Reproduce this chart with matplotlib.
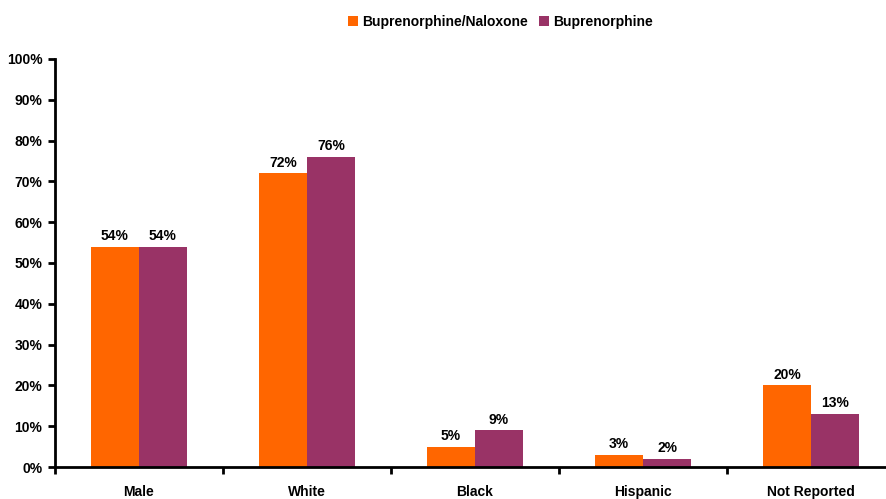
import numpy as np
import matplotlib
matplotlib.use("Agg")
import matplotlib.pyplot as plt
from matplotlib import font_manager

categories = ["Male", "White", "Black", "Hispanic", "Not Reported"]
bup_nal = [54, 72, 5, 3, 20]
bup = [54, 76, 9, 2, 13]
series_names = ["Buprenorphine/Naloxone", "Buprenorphine"]
colors = ["#FF6600", "#993366"]

# narrow font if available
names = {f.name for f in font_manager.fontManager.ttflist}
fam = "Liberation Sans Narrow" if "Liberation Sans Narrow" in names else "Liberation Sans"
plt.rcParams["font.family"] = [fam, "DejaVu Sans"]
plt.rcParams["font.weight"] = "bold"

fig = plt.figure(figsize=(8.86, 4.99), dpi=100)
ax = fig.add_axes([0.062, 0.0641, 0.938, 0.8177])

x = np.arange(len(categories))
w = 0.286
b1 = ax.bar(x - w / 2, bup_nal, w, color=colors[0], label=series_names[0])
b2 = ax.bar(x + w / 2, bup, w, color=colors[1], label=series_names[1])

for bars in (b1, b2):
    for r in bars:
        ax.text(r.get_x() + r.get_width() / 2, r.get_height() + 0.9,
                "{:d}%".format(int(r.get_height())), ha="center", va="bottom",
                fontsize=10, fontweight="bold")

ax.set_ylim(0, 100)
ax.set_xlim(-0.5, 4.446)
ax.set_yticks(range(0, 101, 10))
ax.set_yticklabels(["{}%".format(v) for v in range(0, 101, 10)])
ax.set_xticks(x)
ax.set_xticklabels(categories)
ax.set_xticks(np.arange(len(categories)) - 0.5, minor=True)
ax.tick_params(axis="x", which="major", length=0, pad=13, labelsize=10)
ax.tick_params(axis="x", which="minor", length=5, width=2, direction="out")
ax.tick_params(axis="y", length=5, width=2, direction="out", pad=4, labelsize=10)

for s in ("top", "right"):
    ax.spines[s].set_visible(False)
for s in ("left", "bottom"):
    ax.spines[s].set_linewidth(2)

fig.legend(loc="upper center", bbox_to_anchor=(0.565, 0.995), ncol=2, frameon=False,
           fontsize=10, handlelength=0.7, handleheight=0.7, handletextpad=0.3,
           columnspacing=0.8)

fig.savefig("out.png", dpi=100)
